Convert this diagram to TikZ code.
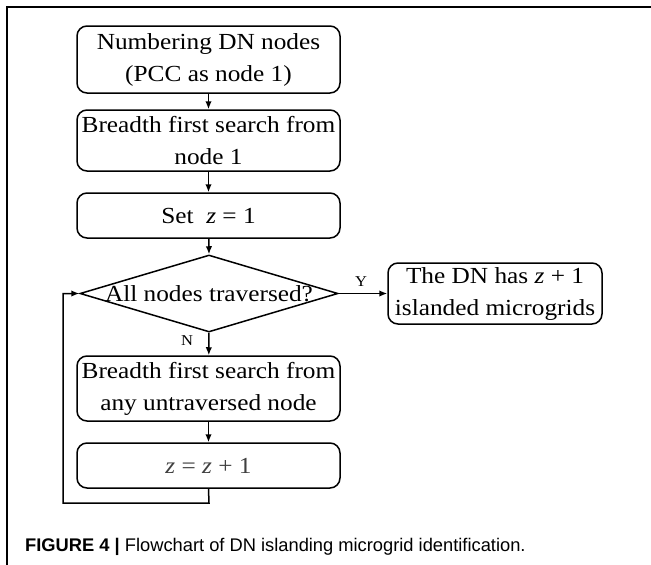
\documentclass[tikz,border=0pt]{standalone}
\usepackage{fontspec}
\setmainfont{Liberation Serif}[FakeStretch=1.1]
\newfontfamily\capfont{Liberation Sans}
\usetikzlibrary{shapes.geometric,arrows.meta}

\newcommand{\zv}{\textit{z}}

\begin{document}
\begin{tikzpicture}[x=1pt,y=-1pt,
  stepbox/.style={draw, line width=1.5pt, rounded corners=10pt,
    minimum width=263pt, align=center, inner sep=0pt,
    font=\fontsize{23}{32}\selectfont},
  decision/.style={draw, diamond, line width=1.5pt, inner sep=0pt,
    minimum width=258pt, minimum height=77pt},
  arr/.style={-{Latex[length=8pt,width=6.5pt]}, line width=1.5pt},
  tag/.style={font=\fontsize{15}{15}\selectfont, inner sep=0pt},
  frame/.style={line width=1.6pt}]
\useasboundingbox (0,0) rectangle (651,565);

% outer frame (top and left edges)
\draw[frame] (7,565) -- (7,7) -- (651,7);

% process boxes
\node[stepbox, minimum height=67pt] (num) at (208.5,59.5)
  {Numbering DN nodes\\(PCC as node 1)};
\node[stepbox, minimum height=61pt] (bfs) at (208.5,140.5)
  {Breadth first search from\\node 1};
\node[stepbox, minimum height=45pt] (setz) at (208.5,215.5)
  {Set\ \ \zv{} = 1};
\node[decision] (chk) at (209,293.5) {};
\node[font=\fontsize{23}{32}\selectfont, inner sep=0pt] (chktxt) at (209,293.5)
  {All nodes traversed?};
\node[stepbox, minimum width=214pt, minimum height=61pt] (res) at (495,293.5)
  {The DN has \zv{} + 1\\islanded microgrids};
\node[stepbox, minimum height=65pt] (bfs2) at (208.5,388.5)
  {Breadth first search from\\any untraversed node};
\node[stepbox, minimum height=45pt, text=black!75] (inc) at (208.5,465.5)
  {\zv{} = \zv{} + 1};

% connectors
\draw[arr] (num) -- (bfs);
\draw[arr] (bfs) -- (setz);
\draw[arr] (setz) -- (chk.north);
\draw[arr] (chk.east) -- (res.west);
\draw[arr] (chk.south) -- (bfs2);
\draw[arr] (bfs2) -- (inc);
\coordinate (lb) at (209,503);
\coordinate (ll) at (63,503);
\coordinate (lt) at (63,293.5);
\draw[arr] (inc.south) -- (lb) -- (ll) -- (lt) -- (chk.west);

% branch labels
\node[tag] (ylab) at (361,282) {Y};
\node[tag] (nlab) at (187,341) {N};

% caption
\node[anchor=west, inner sep=0pt, font=\capfont\fontsize{18.3}{20}\selectfont] (cap) at (25,547)
  {\textbf{FIGURE 4 |} Flowchart of DN islanding microgrid identification.};
\end{tikzpicture}
\end{document}
